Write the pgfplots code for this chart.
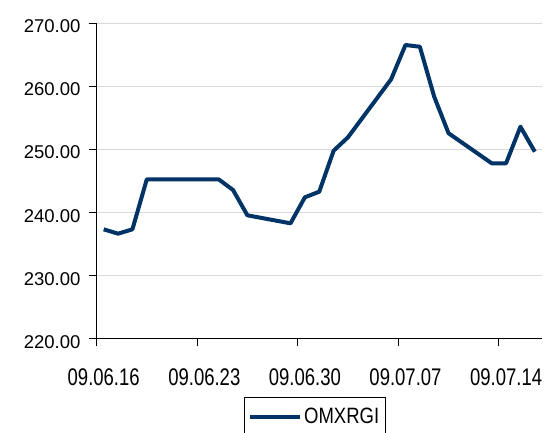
\documentclass[border=0pt]{standalone}
\usepackage{fontspec}
\setmainfont{Liberation Sans}
\usepackage{graphicx}
\usepackage{pgfplots}
\pgfplotsset{compat=1.18}
\definecolor{navy}{RGB}{0,51,102}
\definecolor{gridgray}{RGB}{217,217,217}
\newcommand{\tl}[1]{\scalebox{1}[1.3]{#1}}
\begin{document}
\begin{tikzpicture}
\useasboundingbox (-96.5pt,-94pt) rectangle (447.5pt,339pt);
\begin{axis}[
  at={(0,0)}, anchor=south west,
  scale only axis, width=445.5pt, height=315.7pt,
  xmin=0, xmax=31, ymin=220, ymax=270,
  axis x line*=bottom, axis y line*=left,
  axis line style={black, line width=1pt},
  xtick={0,7,14,21,28},
  xticklabels={\tl{09.06.16},\tl{09.06.23},\tl{09.06.30},\tl{09.07.07},\tl{09.07.14}},
  ytick={220,230,240,250,260,270},
  yticklabels={220.00,230.00,240.00,250.00,260.00,270.00},
  tick align=outside, major tick length=7.5pt,
  tick style={black, line width=1pt},
  ymajorgrids, grid style={gridgray, line width=1pt},
  ticklabel style={font=\fontsize{18.5}{20}\selectfont},
  xticklabel style={xshift=7.2pt, yshift=-19pt},
  yticklabel style={xshift=-5pt, yshift=-3pt},
  legend style={at={(axis description cs:0.3303,-0.1828)}, anchor=north west,
    draw=black, line width=1pt, font=\fontsize{18.5}{20}\selectfont,
    inner xsep=4pt, inner ysep=9pt,
    nodes={text depth=14pt}},
  legend image code/.code={\draw[#1, line width=4pt] (0pt,6pt) -- (50pt,6pt);},
  clip=false,
]
\addplot[navy, line width=4pt, line join=round] coordinates {
(0.5,237.37) (1.5,236.68) (2.5,237.37) (3.5,245.29)
(6.5,245.29) (7.5,245.29) (8.5,245.29) (9.5,243.60) (10.5,239.59)
(13.5,238.32) (14.5,242.44) (15.5,243.33) (16.5,249.82) (17.5,251.95)
(20.5,261.13) (21.5,266.56) (22.5,266.29) (23.5,258.37) (24.5,252.58)
(27.5,247.83) (28.5,247.83) (29.5,253.62) (30.5,249.66)
};
\addlegendentry{\scalebox{1}[1.2]{OMXRGI}}
\end{axis}
\end{tikzpicture}
\end{document}
